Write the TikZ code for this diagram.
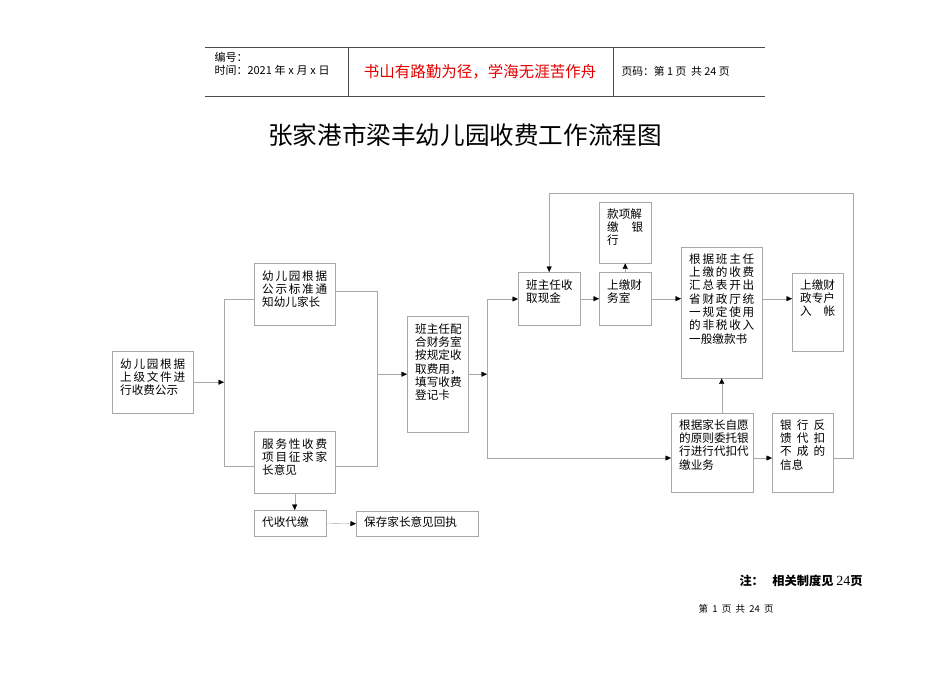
\documentclass[tikz,border=0pt]{standalone}
\usepackage{fontspec}
\usepackage{xcolor}
\usepackage{tikz}
\usetikzlibrary{arrows.meta,positioning}
\setmainfont{Noto Sans CJK SC}
\newfontfamily\numfont{Liberation Serif}
\definecolor{linegray}{gray}{0.66}
\definecolor{mottored}{RGB}{228,0,0}
\newcommand\spr[1]{\leavevmode\hbox to \linewidth{\sprA#1\relax}}
\def\sprA#1{#1\sprB}
\def\sprB#1{\ifx\relax#1\else\hfill#1\expandafter\sprB\fi}
\begin{document}
\begin{tikzpicture}[
  x=1pt,y=-1pt,
  box/.style={rectangle,draw=linegray,anchor=north west,inner xsep=8pt,inner ysep=0pt,align=left,text height=17pt,font=\fontsize{11.6}{13.3}\selectfont},
  rule/.style={draw=black!70,line width=0.6pt},
  line/.style={draw=linegray},
  arrow/.style={draw=linegray,-{Triangle[length=5.5pt,width=5pt,color=black]}}
]
  \useasboundingbox (0,0) rectangle (950,672);

  \draw[rule] (205,47) -- (765,47);
  \draw[rule] (205,96) -- (765,96);
  \draw[rule] (348,47) -- (348,96);
  \draw[rule] (613,47) -- (613,96);
  \node[anchor=west,font=\fontsize{11}{12}\selectfont] (code) at (211,57) {编号：};
  \node[anchor=west,font=\fontsize{11}{12}\selectfont] (date) at (211,70) {时间：2021\hspace{0.25em}年\hspace{0.25em}x\hspace{0.25em}月\hspace{0.25em}x\hspace{0.25em}日};
  \node[font=\fontsize{15.5}{17}\selectfont,text=mottored] (motto) at (480,72) {书山有路勤为径，学海无涯苦作舟};
  \node[anchor=west,font=\fontsize{10.8}{12}\selectfont] (pageno) at (618,71) {页码：第 1 页\ \ 共 24 页};

  \node[font=\fontsize{24.6}{26}\selectfont] (title) at (465,135) {张家港市梁丰幼儿园收费工作流程图};

  \node[box,text width=65pt,text depth=45pt] (notice) at (112,351) {\spr{幼儿园根据}\\\spr{上级文件进}\\行收费公示};
  \node[box,text width=65pt,text depth=45pt] (inform) at (254,263) {\spr{幼儿园根据}\\\spr{公示标准通}\\知幼儿家长};
  \node[box,text width=65pt,text depth=45pt] (survey) at (254,431) {\spr{服务性收费}\\\spr{项目征求家}\\长意见};
  \node[box,text width=56pt,text height=16pt,text depth=10pt] (agent) at (254,510) {代收代缴};
  \node[box,text width=106pt,text height=15pt,text depth=10pt] (receipt) at (356,511) {保存家长意见回执};
  \node[box,text width=45pt,text depth=99pt] (register) at (407,316) {班主任配\\合财务室\\按规定收\\取费用，\\填写收费\\登记卡};
  \node[box,text width=46pt,text depth=36pt] (cash) at (518,272) {班主任收\\取现金};
  \node[box,text width=36pt,text depth=36pt] (office) at (599,272) {上缴财\\务室};
  \node[box,text width=36pt,text height=16pt,text depth=45pt] (bank) at (599,202) {款项解\\\spr{缴银}\\行};
  \node[box,text width=65pt,text height=16pt,text depth=115pt] (voucher) at (681,247) {\spr{根据班主任}\\\spr{上缴的收费}\\\spr{汇总表开出}\\\spr{省财政厅统}\\\spr{一规定使用}\\\spr{的非税收入}\\一般缴款书};
  \node[box,text width=35pt,text height=16pt,text depth=62pt] (account) at (792,273) {上缴财\\政专户\\\spr{入帐}};
  \node[box,text width=66pt,text height=16pt,text depth=63pt] (debit) at (671,413) {根据家长自愿\\的原则委托银\\行进行代扣代\\缴业务};
  \node[box,text width=45pt,text height=16pt,text depth=63pt] (feedback) at (772,413) {\spr{银行反}\\\spr{馈代扣}\\\spr{不成的}\\信息};

  \coordinate (ltop) at (224,299);
  \coordinate (lbot) at (224,466);
  \coordinate (rtop) at (377,291);
  \coordinate (rbot) at (377,466);
  \coordinate (ftop) at (487,299);
  \coordinate (fbot) at (487,458);
  \coordinate (loop) at (853,193);

  \draw[arrow] (notice.east) -- (notice.east -| ltop);
  \draw[line] (ltop -| inform.west) -- (ltop) -- (lbot) -- (lbot -| survey.west);
  \draw[line] (rtop -| inform.east) -- (rtop) -- (rbot) -- (rbot -| survey.east);
  \draw[arrow] (rtop |- register.west) -- (register.west);
  \draw[arrow] (register.east) -- (register.east -| ftop);
  \draw[line] (ftop) -- (fbot);
  \draw[arrow] (ftop) -- (ftop -| cash.west);
  \draw[arrow] (fbot) -- (fbot -| debit.west);
  \draw[arrow] (cash.east) -- (office.west);
  \draw[arrow] (office.east) -- (office.east -| voucher.west);
  \draw[arrow] (voucher.east |- office.east) -- (account.west |- office.east);
  \draw[arrow] (office.north) -- (bank.south);
  \draw[arrow] (voucher.south |- debit.north) -- (voucher.south);
  \draw[arrow] (debit.east |- fbot) -- (feedback.west |- fbot);
  \draw[arrow] (feedback.east |- fbot) -| (loop) -| (cash.north);
  \draw[arrow] (survey.south) -- (survey.south |- agent.north);
  \draw[arrow] (agent.east) -- (receipt.west);

  \node[anchor=west,font=\fontsize{12.2}{14}\selectfont\bfseries] (note) at (736,581) {注：\hspace{0.7em}相关制度见 {\numfont\mdseries\fontsize{14}{14}\selectfont 24}页};
  \node[anchor=west,font=\fontsize{9.5}{10}\selectfont] (foot) at (695,609) {第\hspace{0.45em}1\hspace{0.45em}页\hspace{0.45em}共\hspace{0.45em}24\hspace{0.45em}页};
\end{tikzpicture}
\end{document}
